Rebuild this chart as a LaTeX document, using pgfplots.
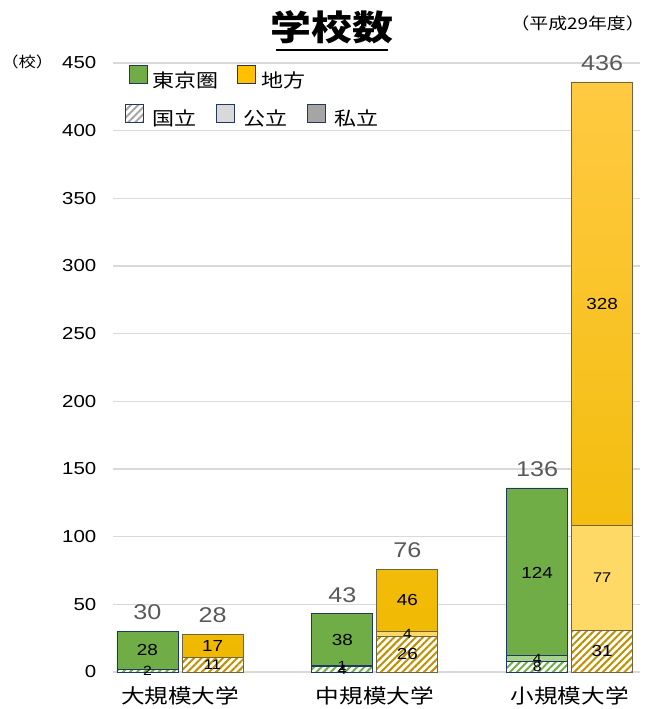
\documentclass[border=0pt]{standalone}
\usepackage{fontspec}
\setmainfont{Liberation Sans}[FakeStretch=1.18]
\newfontfamily\jp{Noto Sans CJK JP}[FakeStretch=1.18]
\usepackage{pgfplots}
\pgfplotsset{compat=1.18}
\usetikzlibrary{patterns.meta}

\definecolor{tgreen}{HTML}{70AD47}
\definecolor{tpub}{HTML}{A9D18E}
\definecolor{lgold}{HTML}{FFC000}
\definecolor{lgoldtop}{HTML}{FFCA42}
\definecolor{lgoldbot}{HTML}{F0B900}
\definecolor{lpub}{HTML}{FFD966}
\definecolor{lhatch}{HTML}{C09000}
\definecolor{navy}{HTML}{1F3864}
\definecolor{olivec}{HTML}{6E6540}
\definecolor{gridc}{HTML}{D9D9D9}
\definecolor{totc}{HTML}{595959}
\definecolor{leglight}{HTML}{D9D9D9}
\definecolor{legdark}{HTML}{A5A5A5}

\pgfplotsset{
  base/.style={
    at={(84.75pt,-504pt)}, anchor=south west, scale only axis,
    width=395.25pt, height=456.75pt,
    xmin=-0.344, xmax=2.361, ymin=0, ymax=450, clip=false,
  },
  sq/.style={
    legend image code/.code={\draw[##1, line width=0.7pt] (0pt,-2.5pt) rectangle (13.5pt,11pt);},
  },
  hatch/.style 2 args={fill=white, postaction={pattern={Lines[angle=45,distance=3.8pt,line width=1.5pt]}, pattern color=#1}, draw=#2, line width=0.6pt},
  lab/.style={draw=none, mark=none, nodes near coords, nodes near coords align=center,
    point meta=explicit symbolic, forget plot,
    every node near coord/.append style={font=\fontsize{#1}{#1}\selectfont, text=black, inner sep=0pt}},
}

\begin{document}
\begin{tikzpicture}
\path[use as bounding box] (0,0) rectangle (483.75pt,-531.75pt);

% ---- Tokyo bars + grid + ticks + first legend row
\begin{axis}[base,
  ybar stacked, bar width=0.313,
  axis line style={draw=none}, major tick length=0pt, tick style={draw=none},
  ytick={0,50,...,450}, ymajorgrids, grid style={draw=gridc, line width=0.8pt},
  xtick={0,1,2}, xticklabels={大規模大学,中規模大学,小規模大学},
  xticklabel style={font=\jp\fontsize{15}{18}\selectfont, yshift=-7.5pt},
  yticklabel style={font=\fontsize{13}{15}\selectfont, xshift=-9pt},
  /pgf/number format/assume math mode=true,
  sq, legend columns=2,
  legend style={at={(0.03,0.974)}, anchor=west, draw=none, fill=none,
    font=\jp\fontsize{14}{16}\selectfont, inner sep=0pt,
    /tikz/every odd column/.append style={column sep=1.5pt},
    /tikz/every even column/.append style={column sep=12pt}},
  legend cell align=left,
]
\addlegendimage{fill=tgreen, draw=navy}
\addlegendentry{東京圏}
\addlegendimage{fill=lgold, draw=navy}
\addlegendentry{地方}
\addplot[forget plot, hatch={tgreen}{navy}] coordinates {(-0.167,2) (0.833,4) (1.833,8)};
\addplot[forget plot, fill=tpub, draw=navy, line width=0.6pt] coordinates {(-0.167,0) (0.833,1) (1.833,4)};
\addplot[forget plot, fill=tgreen, draw=navy, line width=0.6pt] coordinates {(-0.167,28) (0.833,38) (1.833,124)};
\end{axis}

% ---- Local bars + second legend row
\begin{axis}[base, hide axis,
  ybar stacked, bar width=0.313,
  sq, legend columns=3,
  legend style={at={(0.022,0.911)}, anchor=west, draw=none, fill=none,
    font=\jp\fontsize{14}{16}\selectfont, inner sep=0pt,
    /tikz/every odd column/.append style={column sep=4.5pt},
    /tikz/every even column/.append style={column sep=12.5pt}},
  legend cell align=left,
]
\addlegendimage{hatch={legdark}{navy}}
\addlegendentry{国立}
\addlegendimage{fill=leglight, draw=navy}
\addlegendentry{公立}
\addlegendimage{fill=legdark, draw=navy}
\addlegendentry{私立}
\addplot[forget plot, hatch={lhatch}{olivec}] coordinates {(0.167,11) (1.167,26) (2.167,31)};
\addplot[forget plot, fill=lpub, draw=olivec, line width=0.6pt] coordinates {(0.167,0) (1.167,4) (2.167,77)};
\addplot[forget plot, top color=lgoldtop, middle color=lgold, bottom color=lgoldbot, draw=olivec, line width=0.6pt] coordinates {(0.167,17) (1.167,46) (2.167,328)};
\end{axis}

% ---- value labels
\begin{axis}[base, hide axis]
\addplot[lab=12] coordinates {(-0.167,16)[28] (0.833,24)[38] (1.833,73)[124] (0.167,19.5)[17] (1.167,53)[46] (2.167,272)[328] (1.167,13)[26] (2.167,15.5)[31]};
\addplot[lab=10.5] coordinates {(0.167,5.5)[11] (2.167,69.5)[77]};
\addplot[lab=10] coordinates {(-0.167,0.5)[2] (0.833,1.5)[4] (0.833,4.5)[1] (1.833,3.5)[8] (1.833,10)[4] (1.167,28)[4]};
\addplot[draw=none, mark=none, forget plot, nodes near coords, nodes near coords align=above,
  point meta=explicit symbolic,
  every node near coord/.append style={font=\fontsize{16}{18}\selectfont, text=totc, yshift=5pt}]
  coordinates {(-0.167,30)[30] (0.167,28)[28] (0.833,43)[43] (1.167,76)[76] (1.833,136)[136] (2.167,436)[436]};
\end{axis}

% ---- titles
\begin{scope}[x=0.75pt,y=-0.75pt]
\node[font=\jp\bfseries\fontsize{26}{30}\selectfont] at (332,27) {学校数};
\draw[line width=1.8pt] (276,50) -- (388,50);
\node[font=\jp\fontsize{12}{14}\selectfont, anchor=east, inner sep=0pt] at (645,23) {（平成29年度）};
\node[font=\jp\fontsize{11}{13}\selectfont, anchor=west, inner sep=0pt] at (1,62) {（校）};
\end{scope}
\end{tikzpicture}
\end{document}
